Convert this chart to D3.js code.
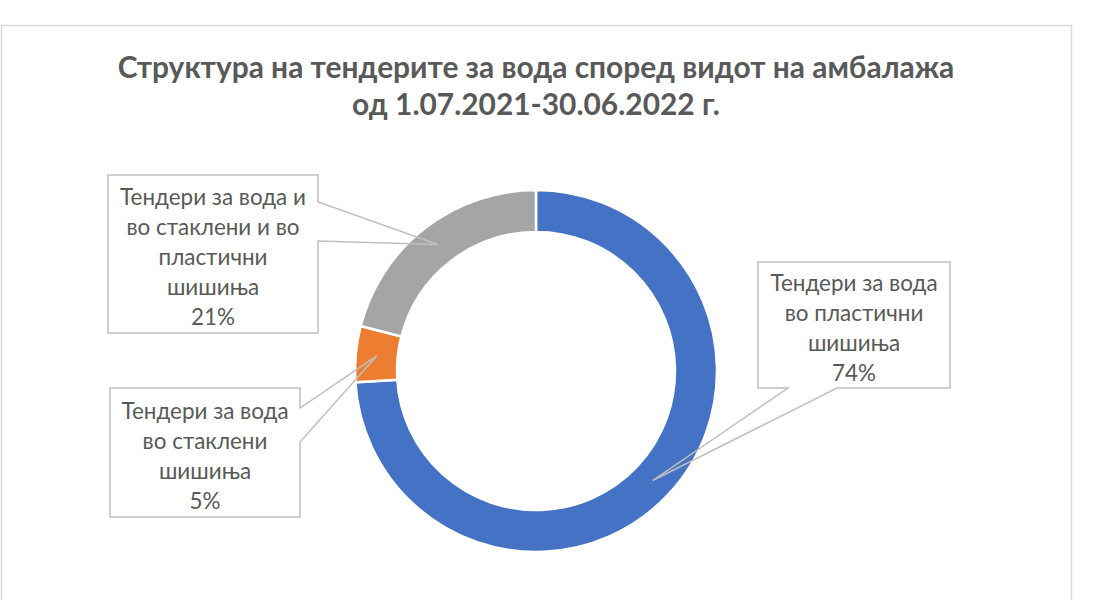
<!DOCTYPE html>
<html>
<head>
<meta charset="utf-8">
<script src="https://cdn.jsdelivr.net/npm/d3@7"></script>
<style>
  html, body { margin: 0; padding: 0; background: #fff; }
  svg { display: block; }
</style>
</head>
<body>
<svg id="chart" width="1100" height="600"></svg>
<script>
// ---- data ----
const categories = [
  "Тендери за вода во пластични шишиња",
  "Тендери за вода во стаклени шишиња",
  "Тендери за вода и во стаклени и во пластични шишиња"
];
const values = [74, 5, 21];
const colors = ["#4472C4", "#ED7D31", "#A5A5A5"];
const labelLines = [
  ["Тендери за вода", "во пластични", "шишиња"],
  ["Тендери за вода", "во стаклени", "шишиња"],
  ["Тендери за вода и", "во стаклени и во", "пластични", "шишиња"]
];
const titleLines = [
  "Структура на тендерите за вода според видот на амбалажа",
  "од 1.07.2021-30.06.2022 г."
];

// ---- layout ----
const svg = d3.select("#chart");
const textColor = "#595959";
const fontFamily = "Lato, 'Open Sans', sans-serif";
const cx = 536, cy = 371, rOuter = 181, rInner = 139;

// chart border
svg.append("rect")
  .attr("x", 1.5).attr("y", 25.5)
  .attr("width", 1070).attr("height", 620)
  .attr("fill", "#fff")
  .attr("stroke", "#d9d9d9").attr("stroke-width", 1.5);

// helper: fit font size to a target width
function fitSize(text, weight, targetWidth) {
  const t = svg.append("text").attr("font-family", fontFamily)
    .attr("font-weight", weight).attr("font-size", 100).text(text);
  const w = t.node().getComputedTextLength();
  t.remove();
  return 100 * targetWidth / w;
}

// title
const titleSize = fitSize(titleLines[0], "bold", 837);
svg.append("g").selectAll("text").data(titleLines).join("text")
  .attr("x", 536)
  .attr("y", (d, i) => 68 + i * 37)
  .attr("dy", "0.35em")
  .attr("text-anchor", "middle")
  .attr("font-family", fontFamily)
  .attr("font-weight", "bold")
  .attr("font-size", titleSize)
  .attr("fill", textColor)
  .text(d => d);

// donut
const pie = d3.pie().sort(null).value(d => d);
const arcs = pie(values);
const arc = d3.arc().innerRadius(rInner).outerRadius(rOuter);
const g = svg.append("g").attr("transform", `translate(${cx},${cy})`);
g.selectAll("path").data(arcs).join("path")
  .attr("d", arc)
  .attr("fill", (d, i) => colors[i])
  .attr("stroke", "#fff")
  .attr("stroke-width", 2.5);

// callouts
const total = d3.sum(values);
const boxes = [
  { x: 758, y: 262, w: 192, h: 126, side: "bottom", a: 788, b: 837, ty: 283 },
  { x: 110, y: 388, w: 190, h: 129, side: "right", a: 408, b: 442, ty: 411 },
  { x: 108, y: 175, w: 210, h: 158, side: "right", a: 202, b: 241, ty: 197 }
];
const labelSize = fitSize("Тендери за вода и", "normal", 186);
const lg = svg.append("g");
arcs.forEach((d, i) => {
  const bx = boxes[i];
  const c = arc.centroid(d);
  const tip = [cx + c[0], cy + c[1]];
  lg.append("rect")
    .attr("x", bx.x).attr("y", bx.y).attr("width", bx.w).attr("height", bx.h)
    .attr("fill", "#fff");
  let p;
  const x0 = bx.x, y0 = bx.y, x1 = bx.x + bx.w, y1 = bx.y + bx.h;
  if (bx.side === "right") {
    p = `M${x0},${y0}H${x1}V${bx.a}L${tip[0]},${tip[1]}L${x1},${bx.b}V${y1}H${x0}Z`;
  } else {
    p = `M${x0},${y0}H${x1}V${y1}H${bx.b}L${tip[0]},${tip[1]}L${bx.a},${y1}H${x0}Z`;
  }
  lg.append("path").attr("d", p)
    .attr("fill", "none").attr("stroke", "#bfbfbf").attr("stroke-width", 1.5);
  const lines = labelLines[i].concat([Math.round(values[i] / total * 100) + "%"]);
  lg.append("g").selectAll("text").data(lines).join("text")
    .attr("x", bx.x + bx.w / 2)
    .attr("y", (t, j) => bx.ty + j * 30)
    .attr("dy", "0.35em")
    .attr("text-anchor", "middle")
    .attr("font-family", fontFamily)
    .attr("font-size", labelSize)
    .attr("fill", textColor)
    .text(t => t);
});
</script>
</body>
</html>
